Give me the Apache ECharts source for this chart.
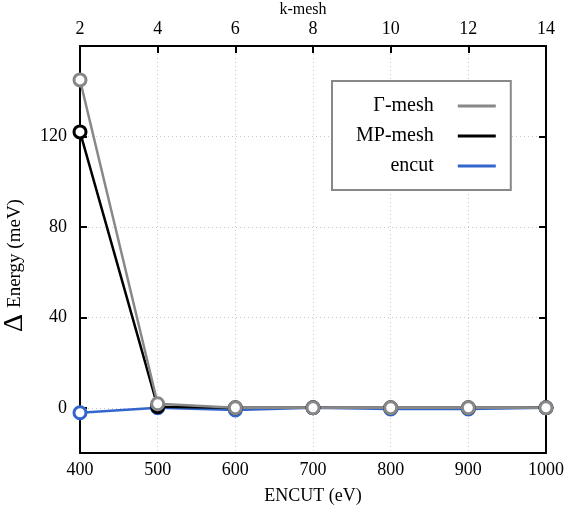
<!DOCTYPE html>
<html>
<head>
<meta charset="utf-8">
<script src="https://cdn.jsdelivr.net/npm/echarts@6/dist/echarts.min.js"></script>
<style>
  html, body { margin: 0; padding: 0; background: #fff; }
  #main { width: 566px; height: 510px; }
</style>
</head>
<body>
<div id="main"></div>
<script>
// k-mesh (top axis) and ENCUT (bottom axis)
var kMesh = [2, 4, 6, 8, 10, 12, 14];
var gammaMesh = [145, 1.8, 0, 0, 0, 0, 0];
var mpMesh = [122, 0.5, 0, 0, 0, 0, 0];
var encut = [400, 500, 600, 700, 800, 900, 1000];
var encutE = [-2.2, 0, -1, 0, -0.5, -0.5, 0];
var yTicks = [0, 40, 80, 120];

var font = 'Liberation Serif';
var chart = echarts.init(document.getElementById('main'));

function pairs(xs, ys) {
  return xs.map(function (x, i) { return [x, ys[i]]; });
}

function mkSeries(name, color, xIdx, data) {
  return {
    name: name,
    type: 'line',
    xAxisIndex: xIdx,
    data: data,
    symbol: 'circle',
    symbolSize: 12,
    lineStyle: { color: color, width: 2.5 },
    itemStyle: { color: '#fff', borderColor: color, borderWidth: 3 },
    emphasis: { disabled: true },
    animation: false
  };
}

var encutSeries = mkSeries('encut', '#3366cc', 0, pairs(encut, encutE));
// dotted horizontal grid lines
encutSeries.markLine = {
  silent: true,
  symbol: ['none', 'none'],
  label: { show: false },
  lineStyle: { color: '#c8c8c8', type: [1, 3], width: 1 },
  data: yTicks.map(function (v) { return { yAxis: v }; }),
  z: 0
};

var gridLine = { color: '#c8c8c8', type: [1, 3], width: 1 };
var blackLine = { onZero: false, lineStyle: { color: '#000', width: 2 } };

var option = {
  backgroundColor: '#fff',
  textStyle: { fontFamily: font },
  grid: { left: 80, right: 20, top: 46, bottom: 57, outerBoundsMode: 'none', containLabel: false },
  legend: {
    left: 332,
    top: 81,
    orient: 'vertical',
    align: 'right',
    icon: 'rect',
    itemWidth: 38,
    itemHeight: 3,
    itemGap: 10,
    padding: [15, 15, 14, 24],
    borderColor: '#888',
    borderWidth: 2,
    backgroundColor: '#fff',
    selectedMode: false,
    formatter: function (n) { return '{t|' + n + '}{sp|x}'; },
    textStyle: {
      fontFamily: font, fontSize: 20, color: '#000',
      rich: {
        t: { fontFamily: font, fontSize: 20, color: '#000' },
        sp: { width: 19, fontSize: 20, color: 'rgba(0,0,0,0)' }
      }
    },
    data: [
      { name: 'Γ-mesh', itemStyle: { color: '#888', borderWidth: 0 } },
      { name: 'MP-mesh', itemStyle: { color: '#000', borderWidth: 0 } },
      { name: 'encut', itemStyle: { color: '#3366cc', borderWidth: 0 } }
    ]
  },
  xAxis: [
    {
      type: 'value',
      position: 'bottom',
      min: 400, max: 1000, interval: 100,
      name: 'ENCUT (eV)',
      nameLocation: 'middle',
      nameGap: 34,
      nameTextStyle: { fontFamily: font, fontSize: 18, color: '#000' },
      axisLine: blackLine,
      axisTick: { show: false },
      axisLabel: { fontFamily: font, fontSize: 18, color: '#000', margin: 8, formatter: function (v) { return String(v); } },
      splitLine: { show: true, lineStyle: gridLine }
    },
    {
      type: 'value',
      position: 'top',
      min: 2, max: 14, interval: 2,
      name: 'k-mesh',
      nameLocation: 'middle',
      nameGap: 28,
      nameMoveOverlap: false,
      nameTextStyle: { fontFamily: font, fontSize: 16, color: '#000', padding: [0, 20, 0, 0] },
      axisLine: blackLine,
      axisTick: { show: true, inside: true, length: 7, lineStyle: { color: '#000', width: 2 } },
      axisLabel: { fontFamily: font, fontSize: 18, color: '#000', margin: 8 },
      splitLine: { show: false }
    }
  ],
  yAxis: [
    {
      type: 'value',
      position: 'left',
      min: -20, max: 160,
      name: '{d|Δ}{e|Energy (meV)}{sp|}',
      nameLocation: 'middle',
      nameRotate: 90,
      nameGap: 46,
      nameTextStyle: {
        rich: {
          d: { fontFamily: font, fontSize: 28, color: '#000', padding: [0, 6, 0, 0] },
          e: { fontFamily: font, fontSize: 19, color: '#000' },
          sp: { width: 32 }
        }
      },
      axisLine: blackLine,
      axisTick: { show: true, inside: true, length: 7, customValues: yTicks, lineStyle: { color: '#000', width: 2 } },
      axisLabel: { fontFamily: font, fontSize: 18, color: '#000', margin: 13, customValues: yTicks },
      splitLine: { show: false }
    },
    {
      type: 'value',
      position: 'right',
      min: -20, max: 160,
      axisLine: blackLine,
      axisTick: { show: true, inside: true, length: 7, customValues: yTicks, lineStyle: { color: '#000', width: 2 } },
      axisLabel: { show: false },
      splitLine: { show: false }
    }
  ],
  series: [
    encutSeries,
    mkSeries('MP-mesh', '#000', 1, pairs(kMesh, mpMesh)),
    mkSeries('Γ-mesh', '#888', 1, pairs(kMesh, gammaMesh))
  ]
};

chart.setOption(option);
</script>
</body>
</html>
